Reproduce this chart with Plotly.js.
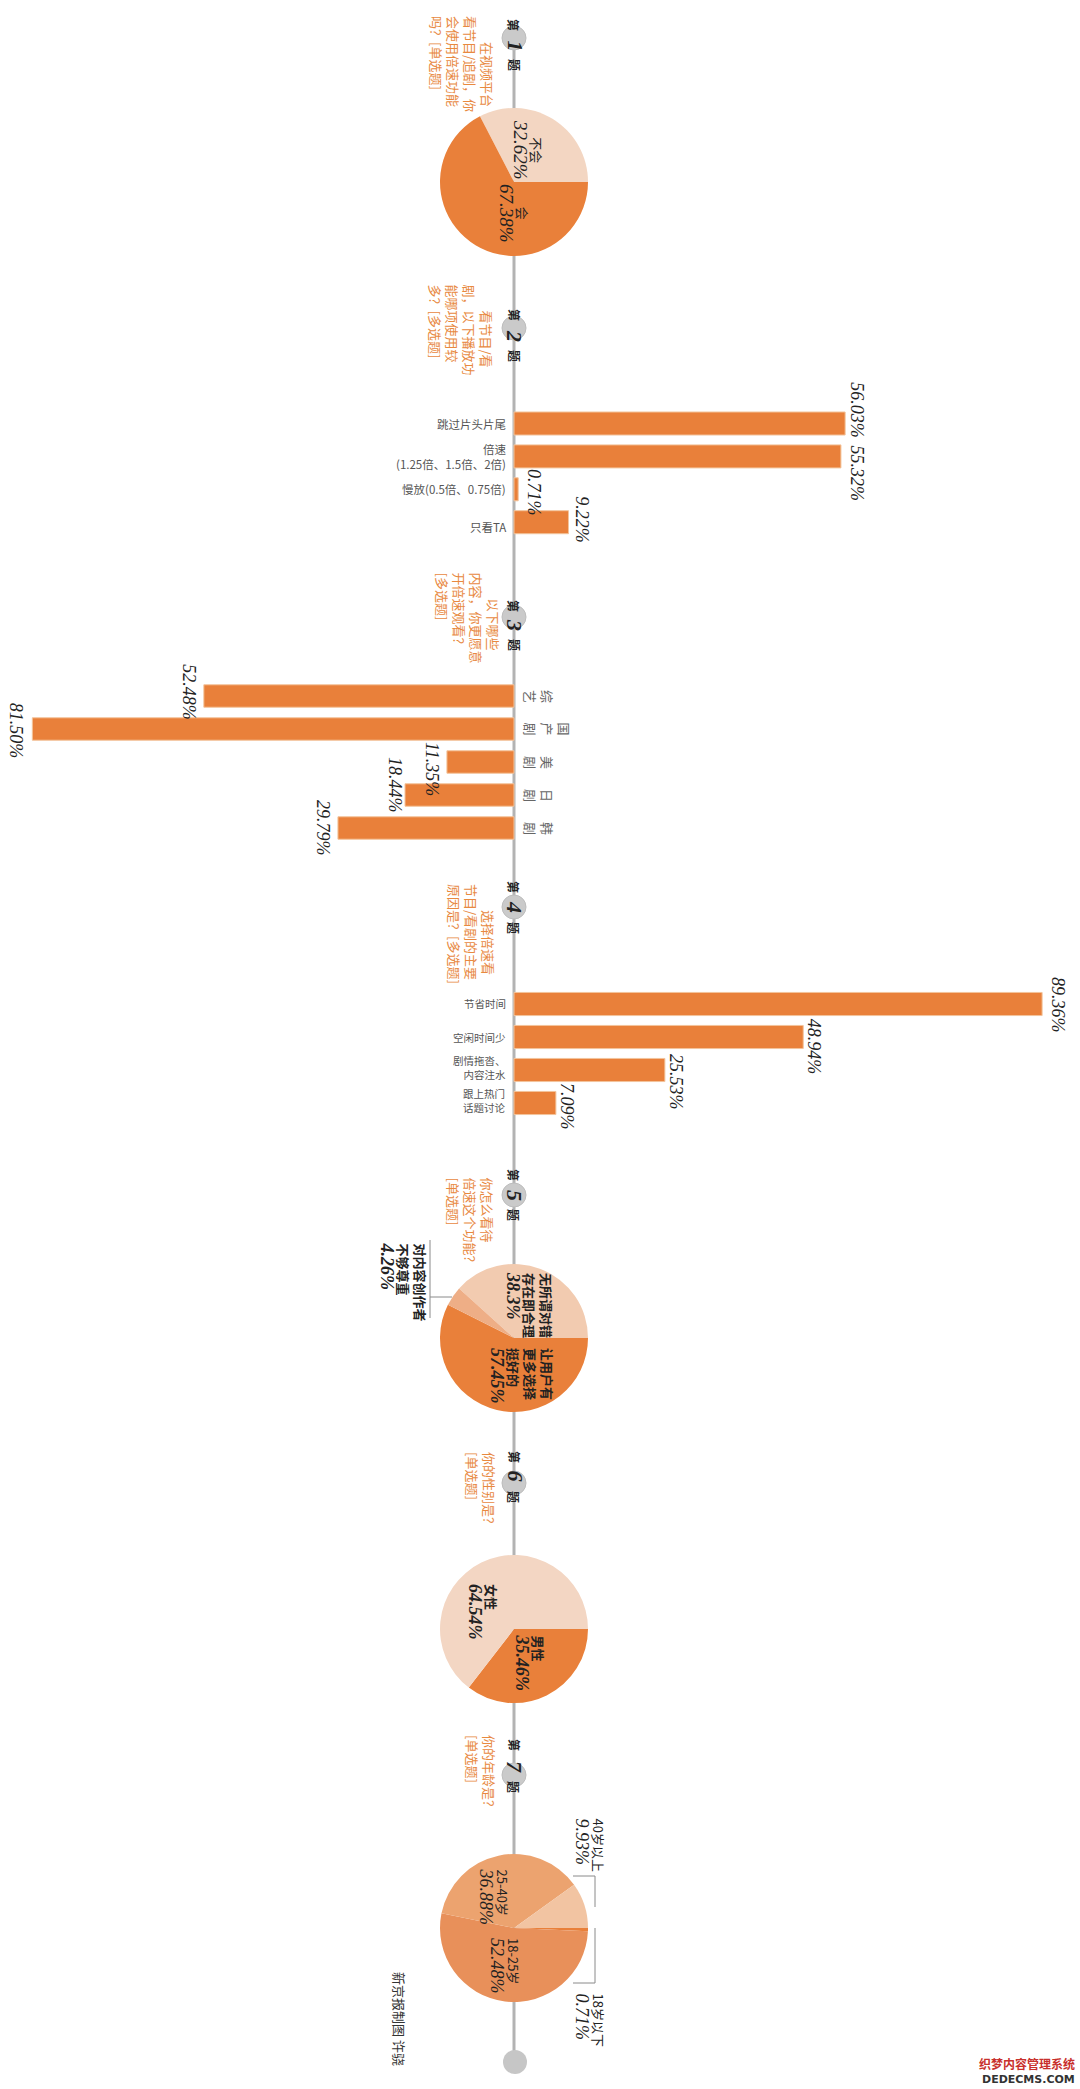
<!DOCTYPE html>
<html><head><meta charset="utf-8">
<script src="https://cdn.plot.ly/plotly-3.0.1.min.js"></script>
<style>html,body{margin:0;padding:0;background:#fff}</style>
</head><body><div id="chart" style="width:1080px;height:2089px"></div>
<script>
// ---------- data ----------
const q1Labels = ['不会', '会'];
const q1Values = [32.62, 67.38];

const q2Categories = ['跳过片头片尾', '倍速', '慢放', '只看TA'];
const q2Display = ['跳过片头片尾', '倍速<br>(1.25倍、1.5倍、2倍)', '慢放(0.5倍、0.75倍)', '只看TA'];
const q2Values = [56.03, 55.32, 0.71, 9.22];

const q3Categories = ['综艺', '国产剧', '美剧', '日剧', '韩剧'];
const q3Values = [52.48, 81.50, 11.35, 18.44, 29.79];

const q4Categories = ['节省时间', '空闲时间少', '剧情拖沓', '跟上话题'];
const q4Display = ['节省时间', '空闲时间少', '剧情拖沓、<br>内容注水', '跟上热门<br>话题讨论'];
const q4Values = [89.36, 48.94, 25.53, 7.09];

const q5Labels = ['无所谓对错<br>存在即合理', '让用户有<br>更多选择<br>挺好的', '对内容创作者<br>不够尊重'];
const q5Values = [38.3, 57.45, 4.26];

const q6Labels = ['男性', '女性'];
const q6Values = [35.46, 64.54];

const q7Labels = ['18岁以下', '18-25岁', '25-40岁', '40岁以上'];
const q7Values = [0.71, 52.48, 36.88, 9.93];

const questionTexts = [
  '　　在视频平台<br>看节目/追剧，你<br>会使用倍速功能<br>吗？[单选题]',
  '　　看节目/看<br>剧，以下播放功<br>能哪项使用较<br>多？[多选题]',
  '　　以下哪些<br>内容，你更愿意<br>开倍速观看？<br>[多选题]',
  '　　选择倍速看<br>节目/看剧的主要<br>原因是？[多选题]',
  '你怎么看待<br>倍速这个功能？<br>[单选题]',
  '你的性别是？<br>[单选题]',
  '你的年龄是？<br>[单选题]'
];
const questionNumbers = ['1', '2', '3', '4', '5', '6', '7'];
const creditText = '新京报制图 许骁';

// ---------- layout helpers ----------
const W = 1080, H = 2089;
const px = x => x / W;
const py = y => 1 - y / H;
const AX = 514, SCALE = 5.91;
const ORANGE = '#e9803a';
const QCOLOR = '#e8893f';
const CJK = 'Noto Sans CJK SC';
const SERIF = 'Liberation Serif';
const num = (v, size) => '<span style="font-family:' + SERIF + ';font-style:italic;font-size:' + size + 'px">' + v + '</span>';

const bandDomain = (top, step, n) => [py(top + step * n), py(top)];

const traces = [];
const annotations = [];
const shapes = [];

// Bars
const barMarker = {color: ORANGE, line: {color: '#f3c49c', width: 1}};
traces.push({type: 'bar', orientation: 'h', x: q2Values, y: q2Categories, xaxis: 'x', yaxis: 'y',
  width: 0.7, marker: barMarker, hoverinfo: 'skip', showlegend: false});
traces.push({type: 'bar', orientation: 'h', x: q3Values, y: q3Categories, xaxis: 'x2', yaxis: 'y2',
  width: 0.68, marker: barMarker, hoverinfo: 'skip', showlegend: false});
traces.push({type: 'bar', orientation: 'h', x: q4Values, y: q4Categories, xaxis: 'x', yaxis: 'y3',
  width: 0.7, marker: barMarker, hoverinfo: 'skip', showlegend: false});

// Pies
function pie(values, labels, colors, cx, cy, r, rotation) {
  return {type: 'pie', values: values, labels: labels, sort: false, direction: 'clockwise',
    rotation: rotation, textinfo: 'none', hoverinfo: 'none', showlegend: false,
    marker: {colors: colors, line: {width: 0}},
    domain: {x: [px(cx - r), px(cx + r)], y: [py(cy + r), py(cy - r)]}};
}
traces.push(pie(q1Values, q1Labels, ['#f3d6c2', ORANGE], 514, 182, 74, -27.4));
traces.push(pie(q5Values, q5Labels, ['#f2cbb0', ORANGE, '#eeae86'], 514, 1338, 74, -47.9));
traces.push(pie(q6Values, q6Labels, [ORANGE, '#f3d6c3'], 514, 1629, 74, 90));
traces.push(pie(q7Values, q7Labels, [ORANGE, '#e8905a', '#eca36f', '#f2c4a2'], 514, 1928, 74, 90));

// Value labels on bars
const q2Shift = [[12, 13], [16, -17], [15, -3], [13.5, 2]];
const q3Shift = [[-15, 4], [-16, -2], [-15, -7], [-10, 10], [-15, 0]];
const q4Shift = [[16, -1], [11, -10], [11, -12], [11, -4]];
function valueLabels(vals, cats, xa, ya, shifts) {
  vals.forEach((v, i) => annotations.push({
    x: v, y: cats[i], xref: xa, yref: ya, text: v.toFixed(2) + '%', showarrow: false,
    textangle: 90, xanchor: 'center', yanchor: 'middle', xshift: shifts[i][0], yshift: shifts[i][1],
    font: {family: SERIF, size: 18, style: 'italic', color: '#222'}
  }));
}
valueLabels(q2Values, q2Categories, 'x', 'y', q2Shift);
valueLabels(q3Values, q3Categories, 'x2', 'y2', q3Shift);
valueLabels(q4Values, q4Categories, 'x', 'y3', q4Shift);

// Category labels
q2Display.forEach((t, i) => annotations.push({
  x: px(508), xref: 'paper', y: q2Categories[i], yref: 'y', text: t, showarrow: false,
  xanchor: 'right', yanchor: 'middle', align: 'right', yshift: i === 3 ? -5 : 0,
  font: {family: CJK, size: 11.5, color: '#555'}
}));
q3Categories.forEach((t, i) => annotations.push({
  x: px(519), xref: 'paper', y: t, yref: 'y2', text: t.split('').join('<br>'), showarrow: false,
  textangle: 90, xanchor: 'left', yanchor: 'middle',
  font: {family: CJK, size: 13, color: '#666'}
}));
q4Display.forEach((t, i) => annotations.push({
  x: px(508), xref: 'paper', y: q4Categories[i], yref: 'y3', text: t, showarrow: false,
  xanchor: 'right', yanchor: 'middle', align: 'right', yshift: i >= 2 ? 3 : 0,
  font: {family: CJK, size: 10.5, color: '#555'}
}));

// Timeline
shapes.push({type: 'line', xref: 'paper', yref: 'paper', x0: px(AX), x1: px(AX), y0: py(28), y1: py(2062),
  line: {color: '#b3b3b3', width: 3}, layer: 'below'});
shapes.push({type: 'circle', xref: 'paper', yref: 'paper', x0: px(503), x1: px(527), y0: py(2050), y1: py(2074),
  fillcolor: '#c6c6c6', line: {width: 0}, layer: 'above'});

// Question markers
const qMarkY = [[17, 38, 57], [307, 328, 348], [598, 617, 637], [887, 907, 928],
                [1175, 1195, 1215], [1465, 1483, 1505], [1753, 1775, 1795]];
const qTextPos = [[462, 14], [461, 282], [467, 570], [472, 882], [470, 1175], [481, 1450], [481, 1733]];
qMarkY.forEach((m, i) => {
  shapes.push({type: 'circle', xref: 'paper', yref: 'paper', x0: px(AX - 12), x1: px(AX + 12),
    y0: py(m[1] + 12), y1: py(m[1] - 12), fillcolor: '#cacaca', line: {color: '#bdbdbd', width: 1}, layer: 'above'});
  annotations.push({x: px(AX), y: py(m[0]), xref: 'paper', yref: 'paper', text: '第', textangle: 90,
    showarrow: false, font: {family: CJK, size: 12, weight: 700, color: '#222'}});
  annotations.push({x: px(AX), y: py(m[2]), xref: 'paper', yref: 'paper', text: '题', textangle: 90,
    showarrow: false, font: {family: CJK, size: 12, weight: 700, color: '#222'}});
  annotations.push({x: px(AX + 1), y: py(m[1]), xref: 'paper', yref: 'paper', text: questionNumbers[i], textangle: 90,
    showarrow: false, font: {family: SERIF, size: 22, weight: 700, style: 'italic', color: '#222'}});
  annotations.push({x: px(qTextPos[i][0]), y: py(qTextPos[i][1]), xref: 'paper', yref: 'paper',
    text: questionTexts[i], textangle: 90, align: 'left', xanchor: 'center', yanchor: 'top',
    showarrow: false, font: {family: CJK, size: 13, color: QCOLOR}});
});

// Pie labels
function pieLabel(text, cx, y, anchorY, opts) {
  annotations.push(Object.assign({x: px(cx), y: py(y), xref: 'paper', yref: 'paper', text: text,
    textangle: 90, xanchor: 'center', yanchor: anchorY, align: anchorY === 'top' ? 'left' : 'center',
    showarrow: false, font: {family: CJK, size: 13, color: '#222'}}, opts || {}));
}
pieLabel(q1Labels[0] + '<br>' + num(q1Values[0].toFixed(2) + '%', 19), 528, 150, 'middle');
pieLabel(q1Labels[1] + '<br>' + num(q1Values[1].toFixed(2) + '%', 19), 514, 213, 'middle');

const bold = {font: {family: CJK, size: 13, weight: 700, color: '#222'}};
pieLabel(q5Labels[0] + '<br>' + num(q5Values[0] + '%', 18), 530, 1270, 'top', bold);
pieLabel(q5Labels[1] + '<br>' + num(q5Values[1].toFixed(2) + '%', 18), 522, 1346, 'top', bold);
pieLabel(q5Labels[2] + '<br>' + num(q5Values[2].toFixed(2) + '%', 18), 403, 1240, 'top', bold);

pieLabel(q6Labels[0] + '<br>' + num(q6Values[0].toFixed(2) + '%', 18), 530, 1632, 'top', bold);
pieLabel(q6Labels[1] + '<br>' + num(q6Values[1].toFixed(2) + '%', 18), 483, 1582, 'top', bold);

pieLabel(q7Labels[2] + '<br>' + num(q7Values[2].toFixed(2) + '%', 18), 494, 1866, 'top');
pieLabel(q7Labels[1] + '<br>' + num(q7Values[1].toFixed(2) + '%', 18), 505, 1936, 'top');
pieLabel(q7Labels[3] + '<br>' + num(q7Values[3].toFixed(2) + '%', 18), 590, 1816, 'top');
pieLabel(q7Labels[0] + '<br>' + num(q7Values[0].toFixed(2) + '%', 18), 590, 1991, 'top');

// Leader lines
const lead = {color: '#8a8a8a', width: 1};
function seg(x0, y0, x1, y1) {
  shapes.push({type: 'line', xref: 'paper', yref: 'paper', x0: px(x0), y0: py(y0), x1: px(x1), y1: py(y1), line: lead});
}
seg(430, 1240, 430, 1318); seg(430, 1297, 452, 1297);
seg(573, 1876, 595, 1876); seg(595, 1876, 595, 1907);
seg(595, 1928, 595, 1983); seg(573, 1983, 595, 1983);

// Credit and watermark
annotations.push({x: px(400), y: py(1970), xref: 'paper', yref: 'paper', text: creditText, textangle: 90,
  xanchor: 'center', yanchor: 'top', showarrow: false, font: {family: CJK, size: 13, color: '#333'}});
annotations.push({x: px(1077), y: py(2063), xref: 'paper', yref: 'paper', text: '织梦内容管理系统',
  xanchor: 'right', yanchor: 'middle', showarrow: false, font: {family: CJK, size: 12, weight: 700, color: '#c8302c'}});
annotations.push({x: px(1077), y: py(2079), xref: 'paper', yref: 'paper', text: 'DEDECMS.COM',
  xanchor: 'right', yanchor: 'middle', showarrow: false, font: {family: 'DejaVu Sans', size: 11, weight: 700, color: '#333'}});

const hidden = {visible: false, showgrid: false, zeroline: false, fixedrange: true};
const layout = {
  width: W, height: H, margin: {l: 0, r: 0, t: 0, b: 0},
  paper_bgcolor: '#ffffff', plot_bgcolor: 'rgba(0,0,0,0)', showlegend: false,
  xaxis: Object.assign({}, hidden, {domain: [0, 1], range: [-AX / SCALE, (W - AX) / SCALE], anchor: 'y'}),
  xaxis2: Object.assign({}, hidden, {domain: [0, 1], range: [AX / SCALE, -(W - AX) / SCALE], anchor: 'y2'}),
  yaxis: Object.assign({}, hidden, {type: 'category', categoryarray: q2Categories, domain: bandDomain(407.05, 32.9, 4),
    range: [q2Categories.length - 0.5, -0.5], anchor: 'x'}),
  yaxis2: Object.assign({}, hidden, {type: 'category', categoryarray: q3Categories, domain: bandDomain(679.5, 33, 5),
    range: [q3Categories.length - 0.5, -0.5], anchor: 'x2'}),
  yaxis3: Object.assign({}, hidden, {type: 'category', categoryarray: q4Categories, domain: bandDomain(987.5, 33, 4),
    range: [q4Categories.length - 0.5, -0.5], anchor: 'x'}),
  annotations: annotations, shapes: shapes
};
Plotly.newPlot('chart', traces, layout, {displayModeBar: false, staticPlot: true});
</script></body></html>
